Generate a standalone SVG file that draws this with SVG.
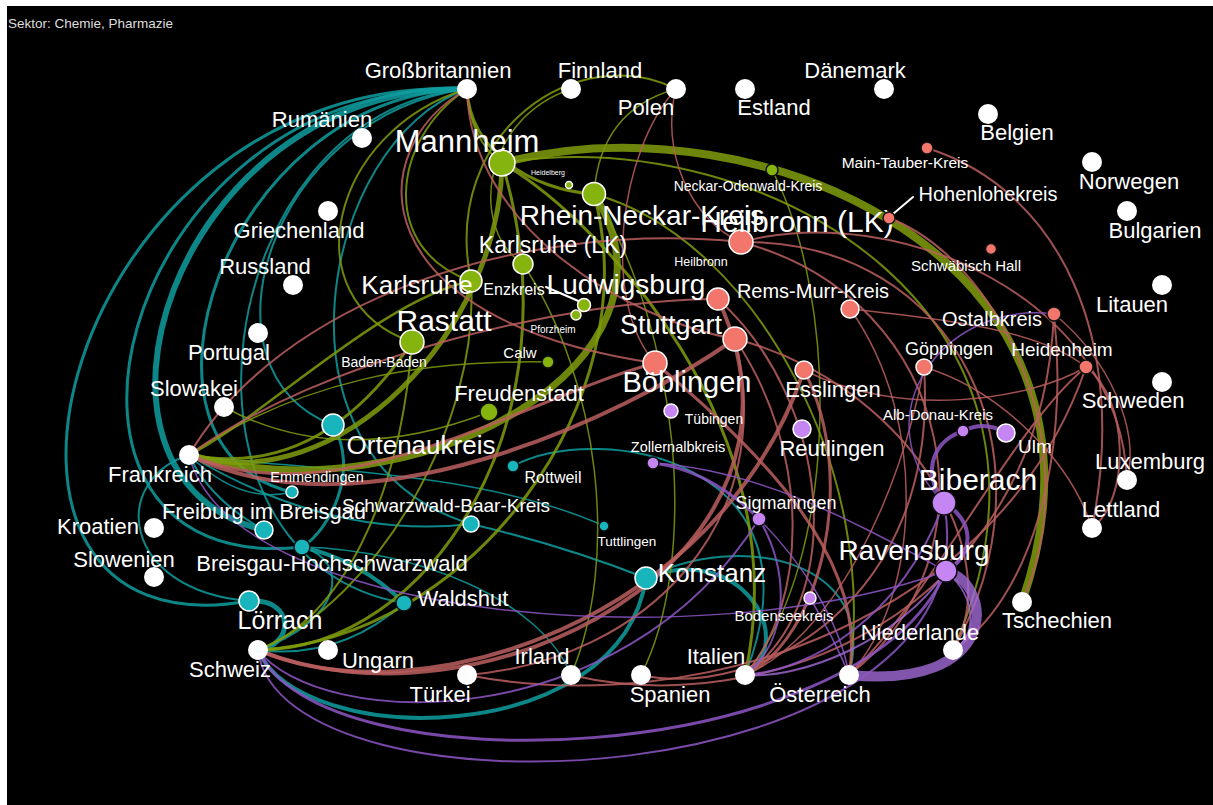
<svg xmlns="http://www.w3.org/2000/svg" width="1213" height="805" viewBox="0 0 1213 805">
<style>
path{fill:none;stroke-opacity:.85;stroke-linecap:round}
.t{stroke:#0f9ea0}
.g{stroke:#7f9c0c}
.r{stroke:#bb5e5f}
.p{stroke:#8e56c6}
.pl{stroke:#a36ad8;stroke-opacity:.8}
.lead{stroke:#fff;stroke-width:2;stroke-opacity:1}
.nw{fill:#fff}
.ng{fill:#86b40e;stroke:#fff;stroke-width:1.5}
.nr{fill:#f2766c;stroke:#fff;stroke-width:1.5}
.np{fill:#c585f2;stroke:#fff;stroke-width:1.5}
.nc{fill:#18b6bc;stroke:#fff;stroke-width:1.5}
.dk{stroke:#111}
text{fill:#fff;font-family:"Liberation Sans",Arial,Helvetica,sans-serif;text-anchor:middle}
.c{font-size:22px}
</style>
<rect x="0" y="0" width="1213" height="805" fill="#fff"/>
<rect x="7" y="6" width="1206" height="799" fill="#000"/>
<text x="8" y="28" style="font-size:13.5px;text-anchor:start;fill:#ddd">Sektor: Chemie, Pharmazie</text>
<g id="connectors">
<!-- teal -->
<path class="t" stroke-width="3" d="M467,89 C60,70 -80,660 249,601"/>
<path class="t" stroke-width="3" d="M467,89 C110,80 0,580 302,547"/>
<path class="t" stroke-width="6" d="M467,89 C170,85 50,480 264,530"/>
<path class="t" stroke-width="3" d="M467,89 C220,95 110,450 292,492"/>
<path class="t" stroke-width="2" d="M467,89 C270,115 190,370 333,425"/>
<path class="t" stroke-width="2" d="M467,89 C320,140 260,460 471,524"/>
<path class="t" stroke-width="2" d="M467,89 C210,110 150,560 404,603"/>
<path class="t" stroke-width="2" d="M189,455 C110,480 120,590 249,601"/>
<path class="t" stroke-width="1.5" d="M189,455 Q240,505 292,492"/>
<path class="t" stroke-width="2" d="M189,455 Q330,540 471,524"/>
<path class="t" stroke-width="1.5" d="M189,455 C300,470 480,470 604,526"/>
<path class="t" stroke-width="5" d="M249,601 C295,598 295,645 258,650"/>
<path class="t" stroke-width="4" d="M258,650 C300,750 620,750 646,578"/>
<path class="t" stroke-width="2" d="M258,650 Q340,660 404,603"/>
<path class="t" stroke-width="2" d="M302,547 C350,560 345,620 258,650"/>
<path class="t" stroke-width="4" d="M646,578 C740,540 800,640 745,675"/>
<path class="t" stroke-width="2" d="M646,578 C740,530 880,560 849,675"/>
<path class="t" stroke-width="2" d="M513,466 C600,420 830,460 745,675"/>
<path class="t" stroke-width="4" d="M302,547 Q360,560 404,603"/>
<path class="t" stroke-width="3" d="M333,425 C360,470 330,530 302,547"/>
<path class="t" stroke-width="2" d="M471,524 C540,540 600,560 646,578"/>
<path class="t" stroke-width="2" d="M264,530 Q210,500 189,455"/>
<path class="t" stroke-width="1.5" d="M302,547 C420,550 540,600 571,675"/>
<!-- green -->
<path class="g" stroke-width="8" d="M502,163 C760,95 1140,260 1022,602"/>
<path class="g" stroke-width="2" d="M502,163 C770,120 1100,320 953,650"/>
<path class="g" stroke-width="7" d="M189,455 C420,520 700,360 594,194"/>
<path class="g" stroke-width="5" d="M189,455 C340,500 500,330 502,163"/>
<path class="g" stroke-width="2.5" d="M189,455 C260,420 380,300 471,281"/>
<path class="g" stroke-width="3" d="M189,455 Q320,480 412,342"/>
<path class="g" stroke-width="3" d="M258,650 C430,650 580,420 502,163"/>
<path class="g" stroke-width="3" d="M258,650 C470,640 650,400 594,194"/>
<path class="g" stroke-width="2" d="M258,650 C380,600 480,420 471,281"/>
<path class="g" stroke-width="2" d="M467,89 C330,130 290,300 412,342"/>
<path class="g" stroke-width="2" d="M467,89 C390,140 380,250 471,281"/>
<path class="g" stroke-width="3" d="M467,89 C470,150 530,190 594,194"/>
<path class="g" stroke-width="2" d="M467,89 Q470,140 502,163"/>
<path class="g" stroke-width="2" d="M676,89 C580,40 440,130 471,281"/>
<path class="g" stroke-width="1.5" d="M676,89 Q600,110 594,194"/>
<path class="g" stroke-width="1.5" d="M571,89 C480,120 470,230 523,264"/>
<path class="g" stroke-width="3" d="M502,163 C600,220 800,430 745,675"/>
<path class="g" stroke-width="2" d="M594,194 C760,240 880,480 849,675"/>
<path class="g" stroke-width="1.5" d="M772,170 C840,300 840,560 745,675"/>
<path class="g" stroke-width="1.5" d="M224,407 Q340,470 489,412"/>
<path class="g" stroke-width="2" d="M412,342 C400,500 340,620 258,650"/>
<path class="g" stroke-width="1.5" d="M189,455 C300,380 420,360 548,362"/>
<path class="g" stroke-width="1.5" d="M594,194 C680,330 700,560 641,675"/>
<path class="g" stroke-width="1.5" d="M523,264 C600,380 620,560 571,675"/>
<!-- red -->
<path class="r" stroke-width="2" d="M189,455 C280,300 520,220 741,242"/>
<path class="r" stroke-width="4" d="M189,455 C360,540 620,420 735,339"/>
<path class="r" stroke-width="3" d="M189,455 C340,520 520,400 655,363"/>
<path class="r" stroke-width="2" d="M189,455 C320,360 560,300 718,299"/>
<path class="r" stroke-width="4" d="M258,650 C420,720 720,620 804,370"/>
<path class="r" stroke-width="4" d="M258,650 C480,740 840,560 718,299"/>
<path class="r" stroke-width="2" d="M467,89 C360,150 360,320 655,363"/>
<path class="r" stroke-width="2" d="M467,89 C470,230 630,320 735,339"/>
<path class="r" stroke-width="1.5" d="M676,89 C620,150 600,300 655,363"/>
<path class="r" stroke-width="1.5" d="M676,89 C660,150 690,220 741,242"/>
<path class="r" stroke-width="2" d="M927,148 C1060,190 1130,340 1092,528"/>
<path class="r" stroke-width="2" d="M741,242 C900,200 1120,300 1127,480"/>
<path class="r" stroke-width="2" d="M741,242 C960,240 1060,460 953,650"/>
<path class="r" stroke-width="2" d="M1086,367 C1130,400 1130,500 1092,528"/>
<path class="r" stroke-width="2" d="M1086,367 C1010,430 930,600 849,675"/>
<path class="r" stroke-width="1.5" d="M1054,314 C1110,360 1140,430 1127,480"/>
<path class="r" stroke-width="2" d="M1054,314 C1070,460 1030,600 953,650"/>
<path class="r" stroke-width="1.5" d="M850,309 C950,320 1040,330 1086,367"/>
<path class="r" stroke-width="1.5" d="M924,367 C1000,390 1070,460 1092,528"/>
<path class="r" stroke-width="1.5" d="M804,370 C900,420 1030,400 1086,367"/>
<path class="r" stroke-width="3" d="M655,363 C760,450 870,560 849,675"/>
<path class="r" stroke-width="2" d="M735,339 C810,450 810,600 745,675"/>
<path class="r" stroke-width="2" d="M735,339 C900,380 1010,550 953,650"/>
<path class="r" stroke-width="2" d="M889,218 C1000,260 1090,450 1022,602"/>
<path class="r" stroke-width="2" d="M1086,367 C1000,620 700,720 467,675"/>
<path class="r" stroke-width="2" d="M924,367 C940,600 760,700 641,675"/>
<path class="r" stroke-width="2" d="M1054,314 C1040,620 760,720 571,675"/>
<path class="r" stroke-width="2" d="M741,242 C960,300 1000,560 849,675"/>
<path class="r" stroke-width="2" d="M718,299 C830,400 850,600 745,675"/>
<path class="r" stroke-width="1.5" d="M924,367 C900,500 830,640 745,675"/>
<path class="r" stroke-width="1.5" d="M850,309 C930,420 920,600 849,675"/>
<path class="r" stroke-width="3" d="M804,370 C860,480 820,640 745,675"/>
<path class="r" stroke-width="2" d="M735,339 C780,520 650,660 467,675"/>
<!-- purple -->
<path class="pl" stroke-width="10" d="M946,571 C995,585 1000,690 849,675"/>
<path class="p" stroke-width="4" d="M944,503 C975,520 975,555 946,571"/>
<path class="p" stroke-width="4" d="M944,503 C920,470 935,440 963,431"/>
<path class="p" stroke-width="4" d="M963,431 Q985,420 1006,433"/>
<path class="p" stroke-width="1.5" d="M1054,314 C940,300 860,420 944,503"/>
<path class="p" stroke-width="3" d="M258,650 C320,790 860,770 946,571"/>
<path class="p" stroke-width="2" d="M258,650 C280,830 1000,800 944,503"/>
<path class="p" stroke-width="2" d="M258,650 C320,730 620,740 759,519"/>
<path class="p" stroke-width="1.5" d="M189,455 C230,620 700,660 946,571"/>
<path class="p" stroke-width="3" d="M653,463 Q710,470 759,519"/>
<path class="p" stroke-width="1.5" d="M653,463 C760,470 850,520 946,571"/>
<path class="p" stroke-width="2" d="M759,519 C790,570 790,640 745,675"/>
<path class="p" stroke-width="1.5" d="M759,519 C800,560 840,620 849,675"/>
<path class="p" stroke-width="2" d="M944,503 C900,620 810,670 745,675"/>
<path class="p" stroke-width="1.5" d="M810,598 Q835,640 849,675"/>
<path class="pl" stroke-width="2" d="M946,571 C980,600 975,640 953,650"/>
<path class="pl" stroke-width="2" d="M946,571 C900,640 800,680 745,675"/>
<!-- leader lines -->
<path class="lead" d="M546,287 L583,303"/>
<path class="lead" d="M913,197 L893,214"/>
</g>
<!-- country nodes -->
<g id="n-grossbritannien"><circle class="nw" cx="467" cy="89" r="10"/><text class="c" x="438" y="78">Großbritannien</text></g>
<g id="n-finnland"><circle class="nw" cx="571" cy="89" r="10"/><text class="c" x="600" y="78">Finnland</text></g>
<g id="n-polen"><circle class="nw" cx="676" cy="89" r="10"/><text class="c" x="646" y="115">Polen</text></g>
<g id="n-estland"><circle class="nw" cx="745" cy="89" r="10"/><text class="c" x="774" y="115">Estland</text></g>
<g id="n-daenemark"><circle class="nw" cx="884" cy="89" r="10"/><text class="c" x="855" y="78">Dänemark</text></g>
<g id="n-rumaenien"><circle class="nw" cx="362" cy="138" r="10"/><text class="c" x="322" y="127">Rumänien</text></g>
<g id="n-belgien"><circle class="nw" cx="988" cy="114" r="10"/><text class="c" x="1017" y="140">Belgien</text></g>
<g id="n-norwegen"><circle class="nw" cx="1092" cy="162" r="10"/><text class="c" x="1129" y="189">Norwegen</text></g>
<g id="n-griechenland"><circle class="nw" cx="328" cy="211" r="10"/><text class="c" x="299" y="238">Griechenland</text></g>
<g id="n-bulgarien"><circle class="nw" cx="1127" cy="211" r="10"/><text class="c" x="1155" y="238">Bulgarien</text></g>
<g id="n-russland"><circle class="nw" cx="293" cy="285" r="10"/><text class="c" x="265" y="274">Russland</text></g>
<g id="n-litauen"><circle class="nw" cx="1162" cy="285" r="10"/><text class="c" x="1132" y="312">Litauen</text></g>
<g id="n-portugal"><circle class="nw" cx="258" cy="333" r="10"/><text class="c" x="229" y="360">Portugal</text></g>
<g id="n-slowakei"><circle class="nw" cx="224" cy="407" r="10"/><text class="c" x="194" y="396">Slowakei</text></g>
<g id="n-schweden"><circle class="nw" cx="1162" cy="382" r="10"/><text class="c" x="1133" y="408">Schweden</text></g>
<g id="n-frankreich"><circle class="nw" cx="189" cy="455" r="10"/><text class="c" x="160" y="482">Frankreich</text></g>
<g id="n-luxemburg"><circle class="nw" cx="1127" cy="480" r="10"/><text class="c" x="1150" y="469">Luxemburg</text></g>
<g id="n-kroatien"><circle class="nw" cx="154" cy="528" r="10"/><text class="c" x="98" y="534">Kroatien</text></g>
<g id="n-lettland"><circle class="nw" cx="1092" cy="528" r="10"/><text class="c" x="1121" y="517">Lettland</text></g>
<g id="n-slowenien"><circle class="nw" cx="154" cy="577" r="10"/><text class="c" x="124" y="567">Slowenien</text></g>
<g id="n-tschechien"><circle class="nw" cx="1022" cy="602" r="10"/><text class="c" x="1057" y="628">Tschechien</text></g>
<g id="n-niederlande"><circle class="nw" cx="953" cy="650" r="10"/><text class="c" x="920" y="640">Niederlande</text></g>
<g id="n-schweiz"><circle class="nw" cx="258" cy="650" r="10"/><text class="c" x="230" y="677">Schweiz</text></g>
<g id="n-ungarn"><circle class="nw" cx="328" cy="650" r="10"/><text class="c" x="378" y="668">Ungarn</text></g>
<g id="n-tuerkei"><circle class="nw" cx="467" cy="675" r="10"/><text class="c" x="440" y="702">Türkei</text></g>
<g id="n-irland"><circle class="nw" cx="571" cy="675" r="10"/><text class="c" x="542" y="664">Irland</text></g>
<g id="n-spanien"><circle class="nw" cx="641" cy="675" r="10"/><text class="c" x="670" y="702">Spanien</text></g>
<g id="n-italien"><circle class="nw" cx="745" cy="675" r="10"/><text class="c" x="716" y="664">Italien</text></g>
<g id="n-oesterreich"><circle class="nw" cx="849" cy="675" r="10"/><text class="c" x="820" y="702">Österreich</text></g>
<!-- green region nodes -->
<g id="n-mannheim"><circle class="ng" cx="502" cy="163" r="13"/><text x="467" y="152" style="font-size:31px">Mannheim</text></g>
<g id="n-heidelberg"><circle class="ng" cx="569" cy="185" r="3.5"/><text x="548" y="175" style="font-size:7px">Heidelberg</text></g>
<g id="n-rhein-neckar-kreis"><circle class="ng" cx="594" cy="194" r="11.5"/><text x="642" y="225" style="font-size:28px">Rhein-Neckar-Kreis</text></g>
<g id="n-karlsruhe-lk"><circle class="ng" cx="523" cy="264" r="10"/><text x="553" y="253" style="font-size:23px">Karlsruhe (LK)</text></g>
<g id="n-karlsruhe"><circle class="ng" cx="471" cy="281" r="11"/><text x="417" y="294" style="font-size:26px">Karlsruhe</text></g>
<g id="n-enzkreis"><circle class="ng" cx="584" cy="305" r="6.5"/><text x="514" y="295" style="font-size:16px">Enzkreis</text></g>
<g id="n-pforzheim"><circle class="ng" cx="576" cy="315" r="5"/><text x="553" y="333" style="font-size:10px">Pforzheim</text></g>
<g id="n-rastatt"><circle class="ng" cx="412" cy="342" r="12"/><text x="444" y="331" style="font-size:30px">Rastatt</text></g>
<g id="n-baden-baden"><text x="384" y="367" style="font-size:14px">Baden-Baden</text></g>
<g id="n-calw"><circle class="ng dk" cx="548" cy="362" r="6"/><text x="520" y="358" style="font-size:15px">Calw</text></g>
<g id="n-freudenstadt"><circle class="ng dk" cx="489" cy="412" r="9"/><text x="519" y="401" style="font-size:22px">Freudenstadt</text></g>
<g id="n-neckar-odenwald-kreis"><circle class="ng dk" cx="772" cy="170" r="6"/><text x="748" y="191" style="font-size:14px">Neckar-Odenwald-Kreis</text></g>
<!-- red region nodes -->
<g id="n-heilbronn-lk"><circle class="nr" cx="741" cy="242" r="12"/><text x="797" y="232" style="font-size:30px">Heilbronn (LK)</text></g>
<g id="n-heilbronn"><text x="701" y="266" style="font-size:12.5px">Heilbronn</text></g>
<g id="n-hohenlohekreis"><circle class="nr dk" cx="889" cy="218" r="6"/><text x="988" y="201" style="font-size:20px">Hohenlohekreis</text></g>
<g id="n-main-tauber-kreis"><circle class="nr dk" cx="927" cy="148" r="6"/><text x="905" y="168" style="font-size:15.5px">Main-Tauber-Kreis</text></g>
<g id="n-schwaebisch-hall"><circle class="nr dk" cx="991" cy="249" r="5.5"/><text x="966" y="271" style="font-size:15px">Schwäbisch Hall</text></g>
<g id="n-ludwigsburg"><circle class="nr" cx="718" cy="299" r="11"/><text x="626" y="294" style="font-size:28px">Ludwigsburg</text></g>
<g id="n-rems-murr-kreis"><circle class="nr" cx="850" cy="309" r="9"/><text x="813" y="298" style="font-size:20px">Rems-Murr-Kreis</text></g>
<g id="n-stuttgart"><circle class="nr" cx="735" cy="339" r="12"/><text x="671" y="334" style="font-size:27px">Stuttgart</text></g>
<g id="n-boeblingen"><circle class="nr" cx="655" cy="363" r="12"/><text x="687" y="392" style="font-size:29px">Böblingen</text></g>
<g id="n-esslingen"><circle class="nr" cx="804" cy="370" r="9"/><text x="833" y="397" style="font-size:22px">Esslingen</text></g>
<g id="n-ostalbkreis"><circle class="nr dk" cx="1054" cy="314" r="7"/><text x="992" y="326" style="font-size:20px">Ostalbkreis</text></g>
<g id="n-goeppingen"><circle class="nr" cx="924" cy="367" r="8"/><text x="949" y="355" style="font-size:18px">Göppingen</text></g>
<g id="n-heidenheim"><circle class="nr dk" cx="1086" cy="367" r="7"/><text x="1062" y="356" style="font-size:19px">Heidenheim</text></g>
<!-- purple region nodes -->
<g id="n-tuebingen"><circle class="np" cx="671" cy="411" r="7"/><text x="714" y="424" style="font-size:14px">Tübingen</text></g>
<g id="n-reutlingen"><circle class="np" cx="802" cy="429" r="9"/><text x="832" y="456" style="font-size:22px">Reutlingen</text></g>
<g id="n-zollernalbkreis"><circle class="np dk" cx="653" cy="463" r="6"/><text x="678" y="452" style="font-size:14.5px">Zollernalbkreis</text></g>
<g id="n-alb-donau-kreis"><circle class="np dk" cx="963" cy="431" r="6"/><text x="938" y="420" style="font-size:15px">Alb-Donau-Kreis</text></g>
<g id="n-ulm"><circle class="np" cx="1006" cy="433" r="9"/><text x="1035" y="453" style="font-size:19px">Ulm</text></g>
<g id="n-biberach"><circle class="np dk" cx="944" cy="503" r="12"/><text x="978" y="490" style="font-size:30px">Biberach</text></g>
<g id="n-sigmaringen"><circle class="np dk" cx="759" cy="519" r="7"/><text x="786" y="509" style="font-size:18px">Sigmaringen</text></g>
<g id="n-ravensburg"><circle class="np dk" cx="946" cy="571" r="11"/><text x="914" y="560" style="font-size:28px">Ravensburg</text></g>
<g id="n-bodenseekreis"><circle class="np" cx="810" cy="598" r="6"/><text x="784" y="621" style="font-size:15px">Bodenseekreis</text></g>
<!-- cyan region nodes -->
<g id="n-ortenaukreis"><circle class="nc" cx="333" cy="425" r="11"/><text x="421" y="454" style="font-size:26px">Ortenaukreis</text></g>
<g id="n-emmendingen"><circle class="nc" cx="292" cy="492" r="6"/><text x="317" y="482" style="font-size:14.5px">Emmendingen</text></g>
<g id="n-rottweil"><circle class="nc dk" cx="513" cy="466" r="6"/><text x="553" y="483" style="font-size:16px">Rottweil</text></g>
<g id="n-freiburg"><circle class="nc" cx="264" cy="530" r="9"/><text x="264" y="519" style="font-size:22px">Freiburg im Breisgau</text></g>
<g id="n-schwarzwald-baar-kreis"><circle class="nc" cx="471" cy="524" r="8"/><text x="446" y="512" style="font-size:19px">Schwarzwald-Baar-Kreis</text></g>
<g id="n-tuttlingen"><circle class="nc dk" cx="604" cy="526" r="5"/><text x="627" y="546" style="font-size:13.5px">Tuttlingen</text></g>
<g id="n-breisgau-hochschwarzwald"><circle class="nc dk" cx="302" cy="547" r="8"/><text x="332" y="571" style="font-size:22px">Breisgau-Hochschwarzwald</text></g>
<g id="n-waldshut"><circle class="nc dk" cx="404" cy="603" r="8"/><text x="463" y="606" style="font-size:22px">Waldshut</text></g>
<g id="n-konstanz"><circle class="nc" cx="646" cy="578" r="11"/><text x="712" y="582" style="font-size:26px">Konstanz</text></g>
<g id="n-loerrach"><circle class="nc" cx="249" cy="601" r="10"/><text x="280" y="629" style="font-size:25px">Lörrach</text></g>
</svg>
